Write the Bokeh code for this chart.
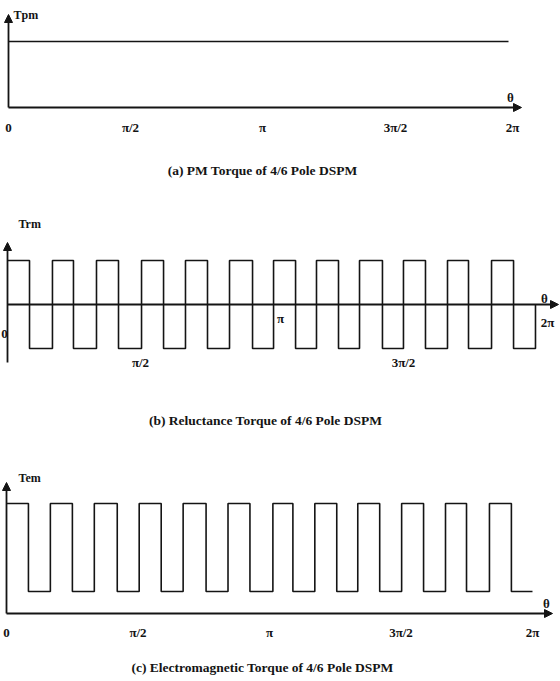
import math
from bokeh.plotting import figure
from bokeh.layouts import column
from bokeh.models import Range1d, Arrow, NormalHead
from bokeh.core.properties import value
from bokeh.embed import file_html
from bokeh.resources import INLINE

PI = math.pi

# ---------------- data ----------------
tick_theta = [0.0, PI / 2, PI, 3 * PI / 2, 2 * PI]
tick_labels = ["0", "π/2", "π", "3π/2", "2π"]

# (a) PM torque: constant
tpm_theta = [0.0, 2 * PI]
tpm_values = [1.5, 1.5]

# (b) reluctance torque: switching angles (rad) and levels
trm_edges = [0.0, 0.262, 0.535, 0.785, 1.059, 1.321, 1.595, 1.857, 2.118,
             2.380, 2.642, 2.916, 3.166, 3.428, 3.677, 3.939, 4.189, 4.462,
             4.712, 4.974, 5.236, 5.486, 5.760, 6.022, 6.283]
trm_levels = [1.0, -1.0, 1.0, -1.0, 1.0, -1.0, 1.0, -1.0, 1.0, -1.0, 1.0, -1.0,
              1.0, -1.0, 1.0, -1.0, 1.0, -1.0, 1.0, -1.0, 1.0, -1.0, 1.0, -1.0]
trm_end_level = 0.0

# (c) electromagnetic torque: switching angles (rad) and levels
tem_edges = [0.0, 0.262, 0.524, 0.787, 1.049, 1.323, 1.585, 1.848, 2.110,
             2.384, 2.646, 2.908, 3.182, 3.421, 3.683, 3.945, 4.196, 4.458,
             4.720, 4.982, 5.244, 5.495, 5.769, 6.031, 6.283]
tem_levels = [2.5, 0.5, 2.5, 0.5, 2.5, 0.5, 2.5, 0.5, 2.5, 0.5, 2.5, 0.5,
              2.5, 0.5, 2.5, 0.5, 2.5, 0.5, 2.5, 0.5, 2.5, 0.5, 2.5, 0.5]
tem_end_level = 0.5

captions = ["(a) PM Torque of 4/6 Pole DSPM",
            "(b) Reluctance Torque of 4/6 Pole DSPM",
            "(c) Electromagnetic Torque of 4/6 Pole DSPM"]
axis_names = ["Tpm", "Trm", "Tem"]

# ---------------- styling ----------------
INK = "#141414"
FONT = value("Liberation Serif")
SY = 44.0  # pixels per torque unit


def make_panel(h, x0, x2pi, zero):
    sx = (x2pi - x0) / (2 * PI)
    p = figure(width=560, height=h,
               x_range=Range1d(-x0 / sx, (560 - x0) / sx),
               y_range=Range1d(-(h - zero) / SY, zero / SY),
               output_backend="svg", toolbar_location=None,
               x_axis_location=None, y_axis_location=None,
               min_border=0, min_border_left=0, min_border_right=0,
               min_border_top=0, min_border_bottom=0)
    p.grid.visible = False
    p.outline_line_color = None
    p.background_fill_color = "white"
    p.border_fill_color = "white"

    def fx(px):
        return (px - x0) / sx

    def fy(py):
        return (zero - py) / SY

    return p, fx, fy, sx


def arrow(p, xs, ys, xe, ye):
    p.add_layout(Arrow(end=NormalHead(size=8, fill_color=INK, line_color=INK, line_width=1),
                       x_start=xs, y_start=ys, x_end=xe, y_end=ye,
                       line_color=INK, line_width=1.8))


def txt(p, xs, ys, texts, size="13px", align="center", style="bold"):
    p.text(x=xs, y=ys, text=texts, text_font=FONT, text_font_style=style,
           text_font_size=size, text_align=align, text_baseline="middle",
           text_color=INK)


# ---------------- panel (a) ----------------
pa, fx, fy, sx = make_panel(195, 8, 508, 107)
pa.line(tpm_theta, tpm_values, line_color=INK, line_width=1.6)
arrow(pa, 0, 0, 0, fy(14))
arrow(pa, 0, 0, fx(521), 0)
txt(pa, [fx(510)], [fy(97)], ["θ"], size="13px")
txt(pa, [fx(13)], [fy(14)], [axis_names[0]], size="12px", align="left")
offs_a = [0, -3, 4, 12, 4]
txt(pa, [t + o / sx for t, o in zip(tick_theta, offs_a)], [fy(127)] * 5, tick_labels)
txt(pa, [fx(262)], [fy(170)], [captions[0]], size="13.5px")

# ---------------- panel (b) ----------------
pb, fx, fy, sx = make_panel(250, 7, 535, 109)
pb.step(trm_edges, trm_levels + [trm_end_level], mode="after", line_color=INK, line_width=1.6)
arrow(pb, 0, fy(167), 0, fy(47))
arrow(pb, 0, 0, fx(558), 0)
txt(pb, [fx(544)], [fy(103)], ["θ"], size="13px")
txt(pb, [fx(18)], [fy(28)], [axis_names[1]], size="12px", align="left")
offs_b = [-3, 1, 9, 0, 12]
ys_b = [138, 167, 123, 167, 127]
txt(pb, [t + o / sx for t, o in zip(tick_theta, offs_b)], [fy(v) for v in ys_b], tick_labels)
txt(pb, [fx(265)], [fy(225)], [captions[1]], size="13.5px")

# ---------------- panel (c) ----------------
pc, fx, fy, sx = make_panel(236, 6, 532, 168)
pc.step(tem_edges, tem_levels + [tem_end_level], mode="after", line_color=INK, line_width=1.6)
arrow(pc, 0, 0, 0, fy(37))
arrow(pc, 0, 0, fx(552), 0)
txt(pc, [fx(546)], [fy(158)], ["θ"], size="13px")
txt(pc, [fx(18)], [fy(32)], [axis_names[2]], size="12px", align="left")
txt(pc, tick_theta, [fy(187)] * 5, tick_labels)
txt(pc, [fx(262)], [fy(222)], [captions[2]], size="13.5px")

layout = column(pa, pb, pc, spacing=0)
open("out.html", "w").write(file_html(layout, INLINE))
